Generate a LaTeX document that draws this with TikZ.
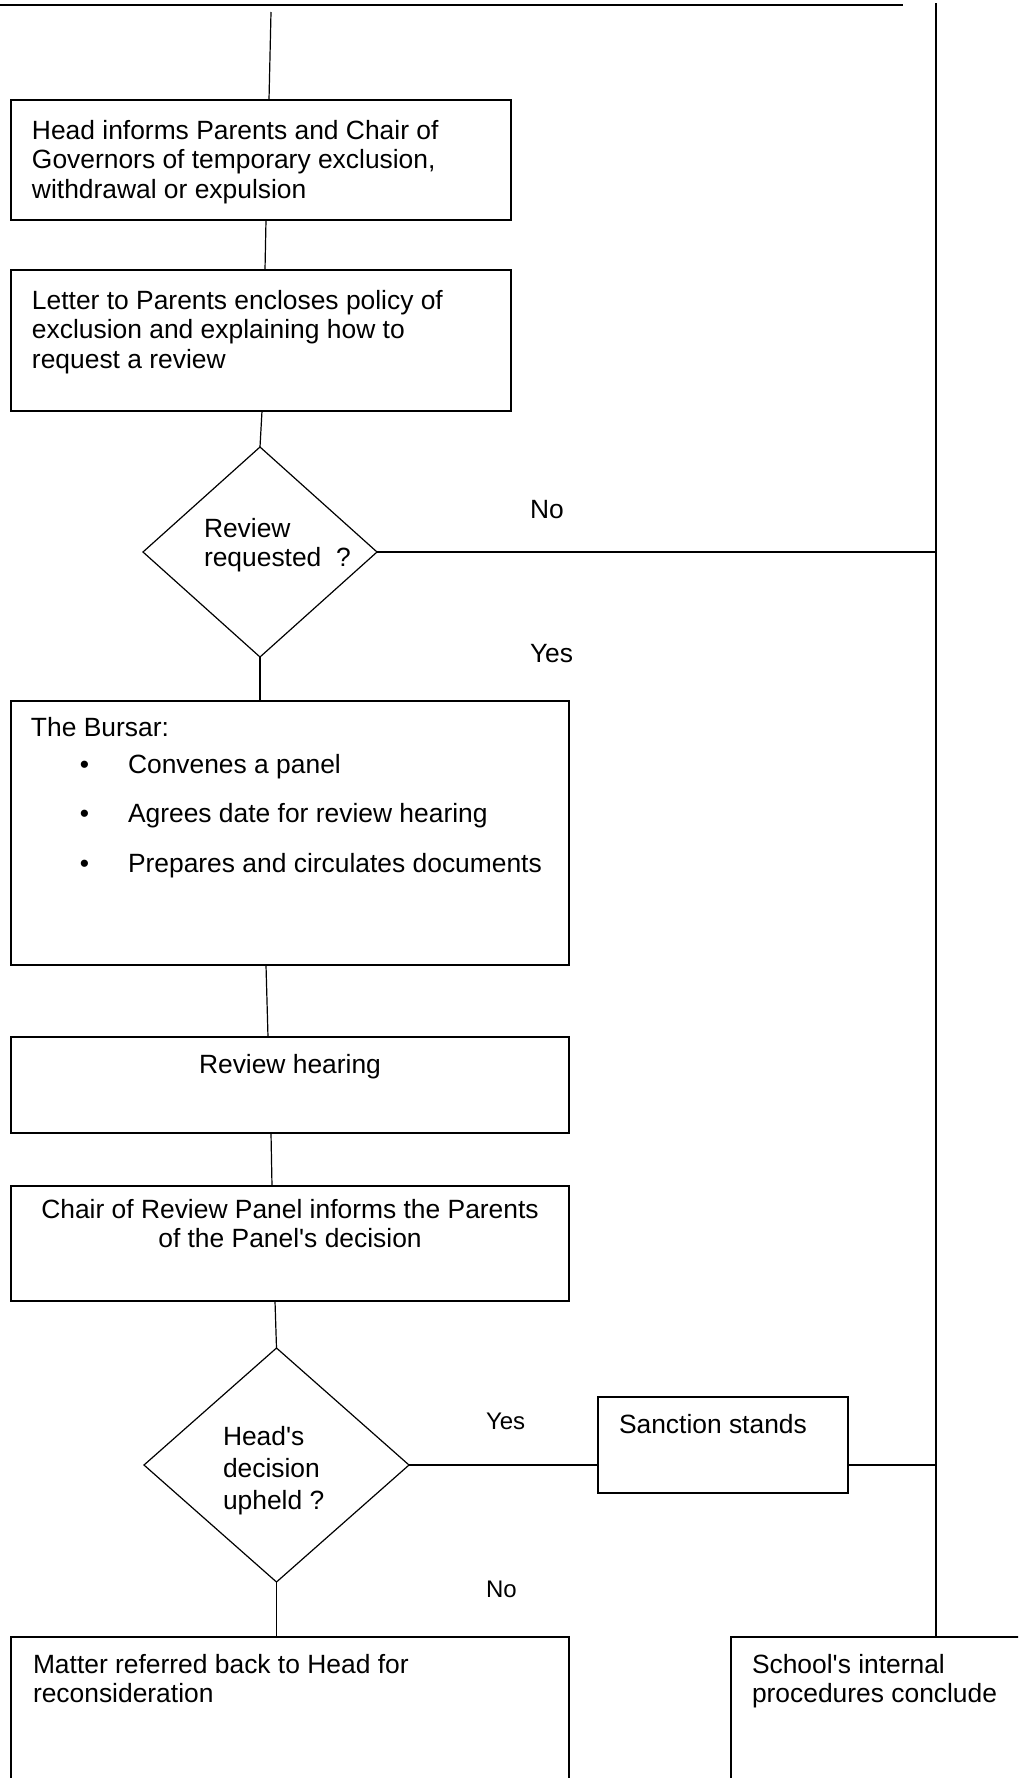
\documentclass[tikz,border=0pt]{standalone}
\usepackage{fontspec}
\newfontfamily\arialf{Liberation Sans}
\usetikzlibrary{shapes.geometric,fit}
\begin{document}
\begin{tikzpicture}[x=0.5pt,y=-0.5pt,
  box/.style={draw, line width=0.75pt, inner sep=0pt, outer sep=0pt},
  conn/.style={line width=0.6pt},
  dia/.style={draw, diamond, line width=0.6pt, inner sep=0pt, outer sep=0pt},
  txt/.style={font=\arialf\fontsize{13.2}{14.8}\selectfont, inner sep=0pt, outer sep=0pt},
  small/.style={font=\arialf\fontsize{12}{14}\selectfont, inner sep=0pt, outer sep=0pt}]
\useasboundingbox (0,0) rectangle (1018,1778);
\clip (0,0) rectangle (1018,1778);

% boxes
\node[box, fit={(11,100) (511,220)}] (b1) {};
\node[box, fit={(11,270) (511,411)}] (b2) {};
\node[dia, minimum width=117pt, minimum height=105pt] (d1) at (260,552) {};
\node[box, fit={(11,701) (569,965)}] (b3) {};
\node[box, fit={(11,1037) (569,1133)}] (b4) {};
\node[box, fit={(11,1186) (569,1301)}] (b5) {};
\node[dia, minimum width=132.5pt, minimum height=117pt] (d2) at (276.5,1465) {};
\node[box, fit={(598,1397) (848,1493)}] (ss) {};
\node[box, fit={(11,1637) (569,1800)}] (mb) {};
\node[box, fit={(731,1637) (1030,1800)}] (sb) {};

% texts
\node[txt, anchor=north west, align=left] (t1) at (32,120)
  {Head informs Parents and Chair of\\Governors of temporary exclusion,\\withdrawal or expulsion};
\node[txt, anchor=north west, align=left] (t2) at (32,290)
  {Letter to Parents encloses policy of\\exclusion and explaining how to\\request a review};
\node[txt, anchor=north west, align=left] (td1) at (204,518)
  {Review\\requested~~?};
\node[txt, anchor=base west] (no1) at (530,518) {No};
\node[txt, anchor=base west] (yes1) at (530,662) {Yes};
\node[txt, anchor=north west, align=left] (t3) at (31,717)
  {The Bursar:\\[4pt]
   \hspace*{24.5pt}\textbullet\hspace*{19.4pt}Convenes a panel\\[9.8pt]
   \hspace*{24.5pt}\textbullet\hspace*{19.4pt}Agrees date for review hearing\\[9.8pt]
   \hspace*{24.5pt}\textbullet\hspace*{19.4pt}Prepares and circulates documents};
\node[txt, anchor=base] (t4) at (290,1073) {Review hearing};
\node[txt, anchor=north, align=center] (t5) at (290,1199)
  {Chair of Review Panel informs the Parents\\of the Panel's decision};
\node[txt, anchor=north west, align=left, font=\arialf\fontsize{13.2}{16}\selectfont] (td2) at (223,1426)
  {Head's\\decision\\upheld ?};
\node[small, anchor=base west] (yes2) at (486,1429) {Yes};
\node[small, anchor=base west] (no2) at (486,1597) {No};
\node[txt, anchor=base west] (tss) at (619,1433) {Sanction stands};
\node[txt, anchor=north west, align=left] (tmb) at (33,1654)
  {Matter referred back to Head for\\reconsideration};
\node[txt, anchor=north west, align=left] (tsb) at (752,1654)
  {School's internal\\procedures conclude};

% frame lines
\coordinate (tl) at (0,5);
\coordinate (tr) at (903,5);
\coordinate (c0) at (271,12);
\coordinate (rvtop) at (936,3);
\draw[line width=1pt] (tl) -- (tr);
\draw[line width=0.75pt] (rvtop) -- (sb.north -| rvtop);

% connectors
\draw[conn] (c0) -- ([xshift=-1pt]b1.north -| c0);
\draw[conn] ([xshift=2.5pt]b1.south) -- ([xshift=2pt]b2.north);
\draw[conn] ([xshift=0.5pt]b2.south) -- (d1.north);
\draw[conn] (d1.east) -- (d1.east -| rvtop);
\draw[conn] (d1.south) -- (b3.north -| d1.south);
\draw[conn] ([xshift=-12pt]b3.south) -- ([xshift=-11pt]b4.north);
\draw[conn] ([xshift=-9.5pt]b4.south) -- ([xshift=-9pt]b5.north);
\draw[conn] ([xshift=-7.5pt]b5.south) -- (d2.north);
\draw[conn] (d2.east) -- (d2.east -| ss.west);
\draw[conn] (ss.east |- d2.east) -- (rvtop |- d2.east);
\draw[conn] (d2.south) -- (mb.north -| d2.south);
\end{tikzpicture}
\end{document}
